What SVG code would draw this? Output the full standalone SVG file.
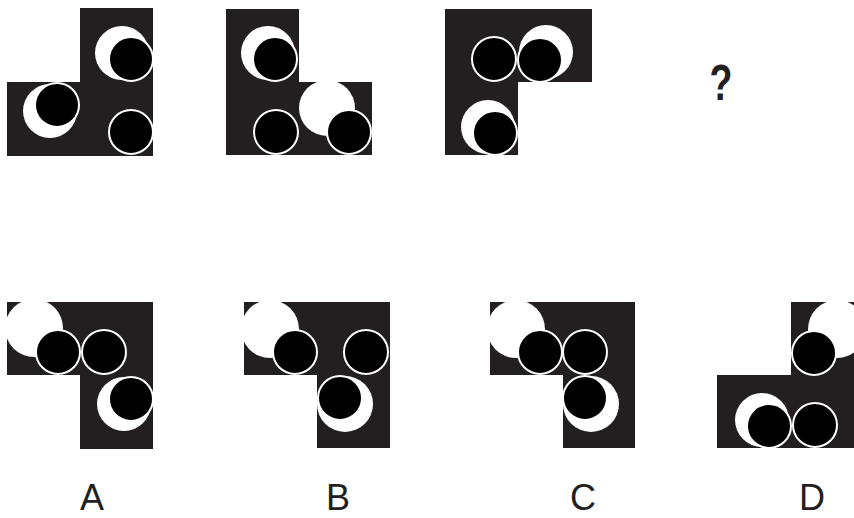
<svg xmlns="http://www.w3.org/2000/svg" width="854" height="518" viewBox="0 0 854 518">
<style>
.bg{fill:#231f20}
.w{fill:#ffffff}
.b{fill:#000000;stroke:#ffffff;stroke-width:2}
.lbl{font-family:"Liberation Sans",Arial,sans-serif;font-size:36px;fill:#231f20;text-anchor:middle}
.q{font-family:"Liberation Sans",Arial,sans-serif;font-size:50px;font-weight:bold;fill:#231f20;text-anchor:middle}
</style>
<rect width="854" height="518" fill="#ffffff"/>
<g id="fig1">
<path class="bg" d="M80,8H153V156H7V82H80Z"/>
<circle class="w" cx="122" cy="53" r="27"/>
<circle class="b" cx="131" cy="59" r="22"/>
<circle class="w" cx="50" cy="111" r="27"/>
<circle class="b" cx="57" cy="105" r="22"/>
<circle class="b" cx="131" cy="132" r="22"/>
</g>
<g id="fig2">
<path class="bg" d="M226,9H299V82H372V155H226Z"/>
<circle class="w" cx="268" cy="53" r="27"/>
<circle class="b" cx="275" cy="59" r="22"/>
<circle class="b" cx="276" cy="132" r="22"/>
<circle class="w" cx="327" cy="108" r="28"/>
<circle class="b" cx="349" cy="132" r="22"/>
</g>
<g id="fig3">
<path class="bg" d="M445,9H592V82H518V155H445Z"/>
<circle class="b" cx="494" cy="59" r="22"/>
<circle class="w" cx="546" cy="52" r="27"/>
<circle class="b" cx="540" cy="60" r="22"/>
<circle class="w" cx="488" cy="127" r="27"/>
<circle class="b" cx="495" cy="133" r="22"/>
</g>
<g id="question">
<text class="q" transform="translate(721,100) scale(0.75,1)" x="0" y="0">?</text>
</g>
<g id="optA">
<path class="bg" d="M7,302H153V449H80V375H7Z"/>
<circle class="w" cx="34" cy="328" r="29"/>
<circle class="b" cx="58" cy="352" r="22"/>
<circle class="b" cx="104" cy="352" r="22"/>
<circle class="w" cx="124" cy="404" r="27"/>
<circle class="b" cx="131" cy="399" r="22"/>
<text class="lbl" x="92" y="510">A</text>
</g>
<g id="optB">
<path class="bg" d="M244,302H390V448H317V375H244Z"/>
<circle class="w" cx="270" cy="329" r="29"/>
<circle class="b" cx="295" cy="352" r="22"/>
<circle class="b" cx="366" cy="352" r="22"/>
<circle class="w" cx="345" cy="404" r="28"/>
<circle class="b" cx="340" cy="398" r="22"/>
<text class="lbl" x="338" y="510">B</text>
</g>
<g id="optC">
<path class="bg" d="M490,302H635V448H563V375H490Z"/>
<circle class="w" cx="516" cy="329" r="29"/>
<circle class="b" cx="540" cy="352" r="22"/>
<circle class="b" cx="585" cy="352" r="22"/>
<circle class="w" cx="591" cy="404" r="28"/>
<circle class="b" cx="585" cy="398" r="22"/>
<text class="lbl" x="583" y="510">C</text>
</g>
<g id="optD">
<path class="bg" d="M791,302H854V448H717V375H791Z"/>
<circle class="w" cx="837" cy="329" r="29"/>
<circle class="b" cx="814" cy="353" r="22"/>
<circle class="w" cx="762" cy="420" r="27"/>
<circle class="b" cx="769" cy="426" r="22"/>
<circle class="b" cx="815" cy="425" r="22"/>
<text class="lbl" x="812" y="510">D</text>
</g>
<g id="connectors"/>
</svg>
